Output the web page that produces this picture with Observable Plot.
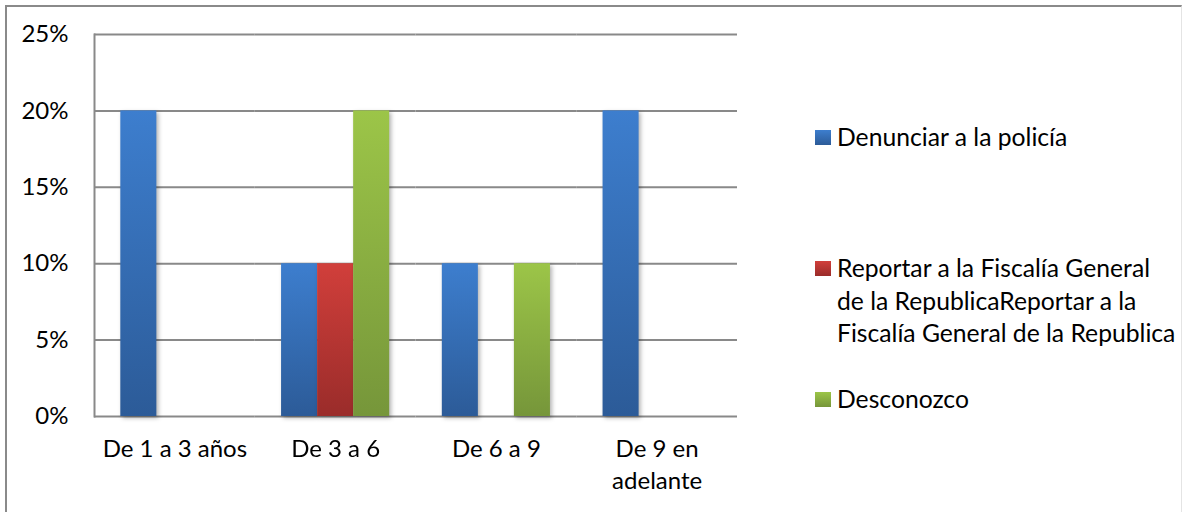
<!DOCTYPE html>
<html><head><meta charset="utf-8">
<script src="https://cdn.jsdelivr.net/npm/d3@7"></script>
<script src="https://cdn.jsdelivr.net/npm/@observablehq/plot@0.6"></script>
<style>
html,body{margin:0;padding:0;background:#fff;overflow:hidden;}
#wrap{position:relative;width:1182px;height:512px;font-family:Lato, sans-serif;}
#border{position:absolute;left:5px;top:5px;width:1177px;height:520px;border-top:2px solid #8a8a8a;border-left:2px solid #8a8a8a;border-right:1px solid #e4e4e4;box-sizing:border-box;}
#chart{position:absolute;left:0;top:0;}
.legend-item{position:absolute;left:815px;font-size:24.7px;line-height:32.5px;color:#000;white-space:nowrap;}
.swatch{position:absolute;left:0;top:9px;width:16px;height:15px;}
.label{position:absolute;left:22px;top:0;}
</style></head>
<body>
<div id="wrap"><div id="border"></div><div id="chart"></div><div id="legend"></div></div>
<script>
const categories = ["De 1 a 3 años", "De 3 a 6", "De 6 a 9", "De 9 en adelante"];
const categoryLabels = ["De 1 a 3 años", "De 3 a 6", "De 6 a 9", "De 9 en\nadelante"];
const series = ["Denunciar a la policía", "Reportar a la Fiscalía General de la RepublicaReportar a la Fiscalía General de la Republica", "Desconozco"];
const legendLines = [["Denunciar a la policía"], ["Reportar a la Fiscalía General", "de la RepublicaReportar a la", "Fiscalía General de la Republica"], ["Desconozco"]];
const denunciar = [0.20, 0.10, 0.10, 0.20];
const reportar = [0, 0.10, 0, 0];
const desconozco = [0, 0.20, 0.10, 0];
const yTicks = [0, 0.05, 0.10, 0.15, 0.20, 0.25];
const colorTop = ["#3d7ece", "#d13f3b", "#9cc548"];
const colorBottom = ["#2c5b98", "#9a2c2a", "#76963a"];
const gradIds = ["g-blue", "g-red", "g-green"];
const legendTops = [121, 252, 383];

const values = [denunciar, reportar, desconozco];
const rowsBySeries = series.map((s, j) => categories.map((c, i) => ({category: c, series: s, value: values[j][i]})));

const defs = () => {
  const d = d3.create("svg:defs");
  series.forEach((s, i) => {
    const g = d.append("linearGradient").attr("id", gradIds[i]).attr("x1", 0).attr("y1", 0).attr("x2", 0).attr("y2", 1);
    g.append("stop").attr("offset", "0%").attr("stop-color", colorTop[i]);
    g.append("stop").attr("offset", "100%").attr("stop-color", colorBottom[i]);
  });
  return d.node();
};

const chart = Plot.plot({
  width: 1182, height: 512,
  marginLeft: 94, marginRight: 445, marginTop: 34, marginBottom: 96,
  style: {fontFamily: "Lato, sans-serif", fontSize: "24px", color: "#000", background: "transparent"},
  fx: {domain: categories, padding: 0, round: false},
  x: {domain: series, paddingInner: 0, paddingOuter: 0.73, round: false, axis: null},
  y: {domain: [0, 0.25]},
  marks: [
    defs,
    Plot.ruleY(yTicks, {stroke: "#898989", strokeWidth: 2}),
    Plot.frame({anchor: "left", facetAnchor: "left", stroke: "#898989", strokeWidth: 2}),
    ...rowsBySeries.map((rows, j) => Plot.barY(rows, {fx: "category", x: "series", y: "value", fill: `url(#${gradIds[j]})`, insetLeft: 0, insetRight: 0})),
    Plot.axisY({ticks: yTicks, tickSize: 0, tickPadding: 26, tickFormat: d3.format(".0%"), label: null, fontSize: 24}),
    Plot.axisFx({anchor: "bottom", tickSize: 0, tickPadding: 17, label: null, fontSize: 24, lineHeight: 1.35, tickFormat: d => categoryLabels[categories.indexOf(d)]})
  ]
});
d3.select(chart).selectAll('g[aria-label="bar"]').style("filter", "drop-shadow(2px 2px 2px rgba(0,0,0,0.3))");
document.getElementById("chart").appendChild(chart);

const legend = d3.select("#legend");
series.forEach((s, i) => {
  const item = legend.append("div").attr("class", "legend-item").style("top", legendTops[i] + "px");
  item.append("div").attr("class", "swatch").style("background", `linear-gradient(${colorTop[i]}, ${colorBottom[i]})`);
  const lab = item.append("div").attr("class", "label");
  legendLines[i].forEach((line, k) => { if (k) lab.append("br"); lab.append("span").text(line); });
});
</script>
</body></html>
